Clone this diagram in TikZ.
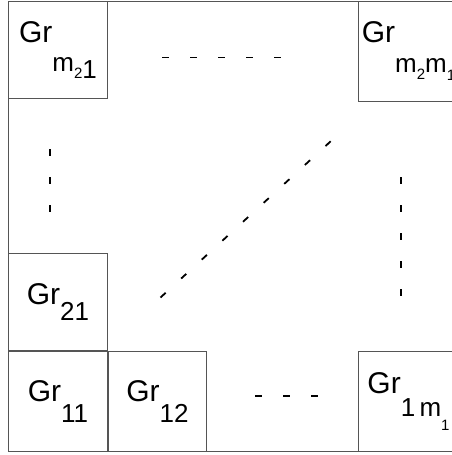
\documentclass[tikz,border=0pt]{standalone}
\usepackage{fontspec}
\setmainfont{Liberation Sans}
\usetikzlibrary{positioning}
\definecolor{frame}{HTML}{555555}

% subscript pieces: lowered by #1 pt
\newcommand{\subbig}[2]{\raisebox{-#1pt}{\fontsize{26}{26}\selectfont #2}}
\newcommand{\subsmall}[2]{\raisebox{-#1pt}{\fontsize{15}{15}\selectfont #2}}

\begin{document}
\begin{tikzpicture}[x=1pt,y=-1pt,font=\fontsize{30}{30}\selectfont,
  cell/.style={draw=frame,line width=1pt,inner sep=0pt,
    minimum width=99pt,minimum height=99pt,anchor=north west},
  dots/.style={line width=1.8pt,dash pattern=on 7pt off 21pt}]
  \useasboundingbox (0,0) rectangle (452,455);
  \clip (0,0) rectangle (452,455);
  \fill[white] (0,0) rectangle (452,455);

  % outer frame
  \draw[frame,line width=1pt] (8,1) rectangle (470,451);

  % corner cells
  \node[cell,minimum height=97pt] (gm1) at (8,1)
    {Gr\subbig{29}{m}\subsmall{36}{2}\subbig{36}{1}};
  \node[cell,minimum width=100pt,minimum height=100pt] (gmm) at (358,1)
    {Gr\subbig{30}{m}\subsmall{37}{2}\subbig{30}{m}\subsmall{38}{1}};
  \node[cell,minimum height=100pt] (g11) at (8,351)
    {Gr\subbig{21}{11}};
  \node[cell,minimum height=97pt,anchor=south west] (g21) at (g11.north west)
    {Gr\subbig{16}{21}};
  \node[cell,minimum width=98pt,minimum height=100pt] (g12) at (g11.north east)
    {Gr\subbig{21}{12}};
  \node[cell,minimum width=100pt,minimum height=100pt] (g1m) at (358,351)
    {Gr\subbig{23}{1\,m}\subsmall{37}{1}};

  % ellipsis dashes
  \coordinate (top1) at (162,57.5);
  \coordinate (top2) at (282,57.5);
  \coordinate (lft1) at (50,149);
  \coordinate (lft2) at (50,212);
  \coordinate (rgt1) at (401,177);
  \coordinate (rgt2) at (401,296);
  \coordinate (bot1) at (255,396);
  \coordinate (bot2) at (318,396);
  \coordinate (dia1) at (160.5,297.5);
  \coordinate (dia2) at (331,141);
  \draw[dots] (top1) -- (top2);
  \draw[dots] (lft1) -- (lft2);
  \draw[dots] (rgt1) -- (rgt2);
  \draw[dots] (bot1) -- (bot2);
  \draw[dots] (dia1) -- (dia2);
\end{tikzpicture}
\end{document}
